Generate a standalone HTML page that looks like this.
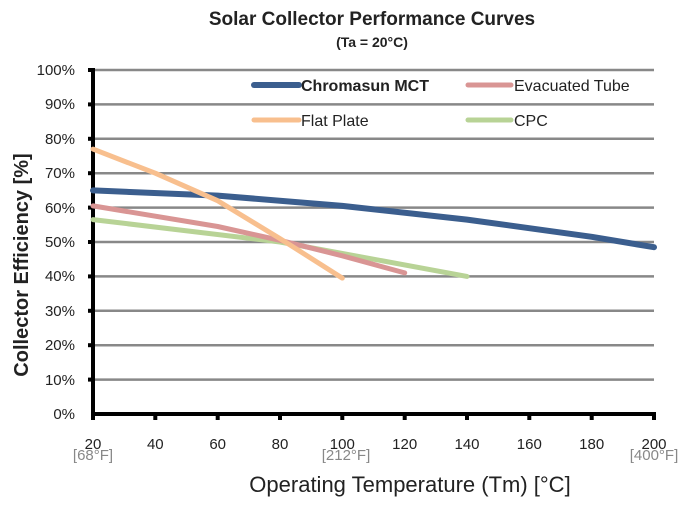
<!DOCTYPE html>
<html><head><style>body{margin:0;background:#fff}</style></head><body>
<svg width="697" height="511" xmlns="http://www.w3.org/2000/svg" font-family="Liberation Sans, sans-serif">
<text x="372" y="25" text-anchor="middle" font-size="19" font-weight="bold" fill="#222">Solar Collector Performance Curves</text>
<text x="372" y="47" text-anchor="middle" font-size="14" font-weight="bold" fill="#222">(Ta = 20°C)</text>
<g stroke="#888" stroke-width="2.5">
<line x1="93" x2="654" y1="70" y2="70"/><line x1="93" x2="654" y1="104.4" y2="104.4"/><line x1="93" x2="654" y1="138.8" y2="138.8"/><line x1="93" x2="654" y1="173.2" y2="173.2"/><line x1="93" x2="654" y1="207.6" y2="207.6"/><line x1="93" x2="654" y1="242" y2="242"/><line x1="93" x2="654" y1="276.4" y2="276.4"/><line x1="93" x2="654" y1="310.8" y2="310.8"/><line x1="93" x2="654" y1="345.2" y2="345.2"/><line x1="93" x2="654" y1="379.6" y2="379.6"/>
</g>
<g stroke="#000" stroke-width="4">
<line x1="93" y1="68" x2="93" y2="416"/><line x1="91" y1="414" x2="656" y2="414"/>
</g>
<g stroke="#000" stroke-width="4">
<line x1="88" x2="93" y1="70" y2="70"/><line x1="88" x2="93" y1="104.4" y2="104.4"/><line x1="88" x2="93" y1="138.8" y2="138.8"/><line x1="88" x2="93" y1="173.2" y2="173.2"/><line x1="88" x2="93" y1="207.6" y2="207.6"/><line x1="88" x2="93" y1="242" y2="242"/><line x1="88" x2="93" y1="276.4" y2="276.4"/><line x1="88" x2="93" y1="310.8" y2="310.8"/><line x1="88" x2="93" y1="345.2" y2="345.2"/><line x1="88" x2="93" y1="379.6" y2="379.6"/>
<line y1="414" y2="420" x1="155.3" x2="155.3"/><line y1="414" y2="420" x1="217.7" x2="217.7"/><line y1="414" y2="420" x1="280" x2="280"/><line y1="414" y2="420" x1="342.3" x2="342.3"/><line y1="414" y2="420" x1="404.7" x2="404.7"/><line y1="414" y2="420" x1="467" x2="467"/><line y1="414" y2="420" x1="529.3" x2="529.3"/><line y1="414" y2="420" x1="591.7" x2="591.7"/><line y1="414" y2="420" x1="654" x2="654"/><line y1="414" y2="420" x1="93" x2="93"/>
</g>
<g font-size="15" fill="#222" text-anchor="end">
<text x="75" y="75">100%</text><text x="75" y="109">90%</text><text x="75" y="144">80%</text><text x="75" y="178">70%</text><text x="75" y="213">60%</text><text x="75" y="247">50%</text><text x="75" y="281">40%</text><text x="75" y="316">30%</text><text x="75" y="350">20%</text><text x="75" y="385">10%</text><text x="75" y="419">0%</text>
</g>
<g font-size="15" fill="#222" text-anchor="middle">
<text x="93" y="449">20</text><text x="155.3" y="449">40</text><text x="217.7" y="449">60</text><text x="280" y="449">80</text><text x="342.3" y="449">100</text><text x="404.7" y="449">120</text><text x="467" y="449">140</text><text x="529.3" y="449">160</text><text x="591.7" y="449">180</text><text x="654" y="449">200</text>
</g>
<g font-size="15" fill="#888" text-anchor="middle">
<text x="93" y="460">[68°F]</text><text x="346" y="460">[212°F]</text><text x="654" y="460">[400°F]</text>
</g>
<text x="410" y="492" text-anchor="middle" font-size="22" fill="#222">Operating Temperature (Tm) [°C]</text>
<text transform="translate(28,265) rotate(-90)" text-anchor="middle" font-size="20" font-weight="bold" fill="#222">Collector Efficiency [%]</text>
<g fill="none" stroke-linecap="round" stroke-linejoin="round" stroke-width="5">
<polyline stroke="#b8d396" points="93,219.6 280,242 467,276.4"/>
<polyline stroke="#d99594" points="93,205.9 217.7,226.5 280,240.3 342.3,255.8 404.7,272.9"/>
<polyline stroke="#3b5e8e" stroke-width="6" points="93,190.4 217.7,195.6 342.3,205.9 467,219.6 591.7,236.8 654,247.2"/>
<polyline stroke="#f8bf8e" points="93,149.1 155.3,173.2 217.7,200.7 280,238.6 342.3,278.1"/>
</g>
<g stroke-linecap="round" stroke-width="5">
<line x1="254" x2="299" y1="85" y2="85" stroke="#3b5e8e" stroke-width="6"/>
<line x1="468" x2="511" y1="85" y2="85" stroke="#d99594"/>
<line x1="254" x2="299" y1="120" y2="120" stroke="#f8bf8e"/>
<line x1="468" x2="511" y1="120" y2="120" stroke="#b8d396"/>
</g>
<g font-size="16" fill="#222">
<text x="301" y="91" font-weight="bold">Chromasun MCT</text>
<text x="514" y="91">Evacuated Tube</text>
<text x="301" y="126">Flat Plate</text>
<text x="514" y="126">CPC</text>
</g>
</svg>
</body></html>
